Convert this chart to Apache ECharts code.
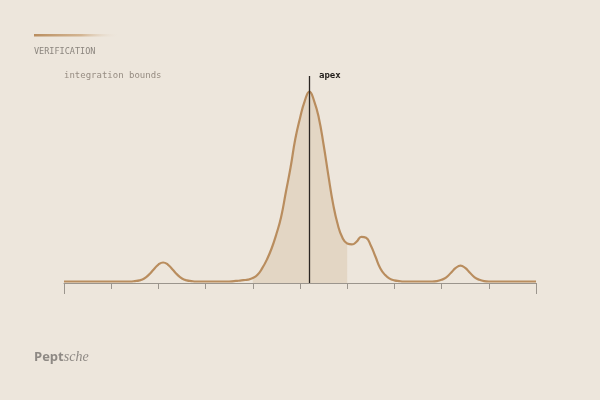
<!DOCTYPE html>
<html>
<head>
<meta charset="utf-8">
<script src="https://cdn.jsdelivr.net/npm/echarts@6/dist/echarts.min.js"></script>
<style>
html,body{margin:0;padding:0;background:#ede6dc;}
#c{width:600px;height:400px;}
</style>
</head>
<body>
<div id="c"></div>
<script>
// retention positions (axis units) and signal intensities
const xValues = [];
for (let i = 0; i <= 100; i++) xValues.push(+(i / 10).toFixed(1));
const signal = [
  0,0,0,0,0,0,0,0,0,0,            // 0.0 - 0.9
  0,0,0,0,0,0.2,0.6,1.6,3.6,6.3,  // 1.0 - 1.9
  8.9,10,8.9,6.3,3.6,1.6,0.6,0.2,0,0, // 2.0 - 2.9
  0,0,0,0,0,0,0.2,0.4,0.7,1.0,    // 3.0 - 3.9
  1.8,3.5,7,11.6,17.5,25,34,47,60,75, // 4.0 - 4.9
  86,95,100,95,86,72,56,41,30,23, // 5.0 - 5.9
  20,19.5,21,23.5,23,19,13,7,3.5,1.5, // 6.0 - 6.9
  0.6,0.2,0,0,0,0,0,0,0,0.2,      // 7.0 - 7.9
  0.9,2.2,4.6,7.1,8.4,7.1,4.6,2.2,0.9,0.2, // 8.0 - 8.9
  0,0,0,0,0,0,0,0,0,0,            // 9.0 - 9.9
  0                               // 10.0
];
const boundStart = 4.0;
const boundEnd = 6.0;
const apexX = 5.2;

const curve = xValues.map((x, i) => [x, signal[i]]);
const bounded = curve.filter(p => p[0] >= boundStart - 1e-9 && p[0] <= boundEnd + 1e-9);

const chart = echarts.init(document.getElementById('c'), null, {renderer: 'canvas'});
const mono = '"DejaVu Sans Mono", "Liberation Mono", monospace';
chart.setOption({
  backgroundColor: '#ede6dc',
  animation: false,
  grid: {left: 64, right: 64, top: 76, bottom: 117},
  xAxis: [{
    type: 'value', min: 0, max: 10, interval: 1,
    axisLine: {show: true, onZero: false, lineStyle: {color: '#9b958d', width: 1}},
    axisTick: {show: true, length: 6, lineStyle: {color: '#9b958d', width: 1}},
    axisLabel: {show: false},
    splitLine: {show: false}
  }, {
    type: 'value', min: 0, max: 10, interval: 10, position: 'bottom',
    axisLine: {show: false, onZero: false},
    axisTick: {show: true, length: 11, lineStyle: {color: '#9b958d', width: 1}},
    axisLabel: {show: false},
    splitLine: {show: false}
  }],
  yAxis: {
    type: 'value', min: -0.8, max: 108.2,
    show: false, splitLine: {show: false}
  },
  series: [{
    type: 'line',
    data: bounded,
    smooth: 0.5,
    symbol: 'none',
    lineStyle: {width: 0},
    areaStyle: {color: '#e3d6c4', opacity: 1, origin: -0.8},
    z: 1
  }, {
    type: 'line',
    data: curve,
    smooth: 0.5,
    symbol: 'none',
    lineStyle: {color: '#b98d5e', width: 2.2},
    z: 3,
    markLine: {
      silent: true,
      symbol: 'none',
      label: {show: false},
      lineStyle: {color: '#2b2622', width: 1.3, type: 'solid'},
      data: [{xAxis: apexX}]
    }
  }],
  graphic: [{
    type: 'rect',
    shape: {x: 34, y: 34, width: 86, height: 2.5},
    style: {
      fill: new echarts.graphic.LinearGradient(0, 0, 1, 0, [
        {offset: 0, color: '#b98d5e'},
        {offset: 0.55, color: 'rgba(200,160,115,0.7)'},
        {offset: 1, color: 'rgba(237,230,220,0)'}
      ])
    }
  }, {
    type: 'text', left: 34, top: 47,
    style: {text: 'VERIFICATION', font: '8.5px ' + mono, fill: '#8b857e'}
  }, {
    type: 'text', left: 64, top: 71,
    style: {text: 'integration bounds', font: '9px ' + mono, fill: '#968c82'}
  }, {
    type: 'text', left: 319, top: 71,
    style: {text: 'apex', font: 'bold 9px ' + mono, fill: '#1f1b18'}
  }, {
    type: 'text', left: 34, top: 350,
    style: {
      text: '{a|Pept}{b|sche}',
      rich: {
        a: {font: 'bold 13px "Open Sans", "DejaVu Sans", sans-serif', fill: '#8e8984'},
        b: {font: 'italic 14px "Liberation Serif", "DejaVu Serif", serif', fill: '#8e8984'}
      }
    }
  }]
});
</script>
</body>
</html>
